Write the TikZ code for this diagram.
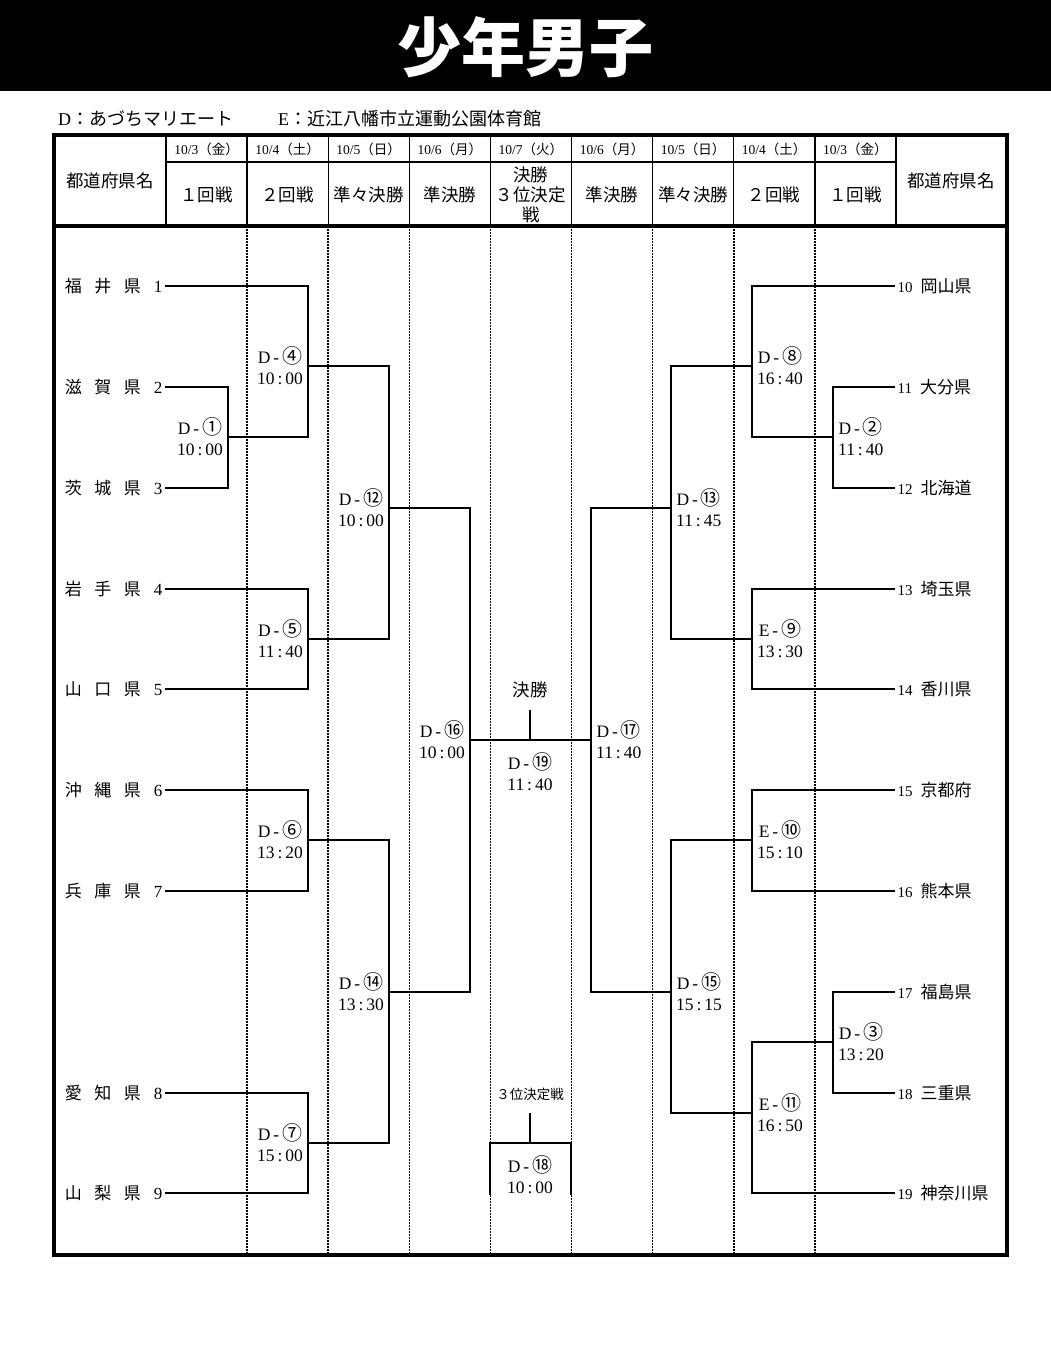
\documentclass[tikz,border=0pt]{standalone}
\usepackage{fontspec}
\setmainfont{Liberation Serif}
\newfontfamily\jp{Noto Sans CJK JP}
\usetikzlibrary{positioning}

% etiqueta de partido: cancha, numero, hora
\newcommand\matchlbl[4]{#1\,-\,{\jp\fontsize{20}{21}\selectfont #2}\\#3\,:\,#4}
\newcommand\gap{\hspace{12.5pt}}

\begin{document}
\begin{tikzpicture}[
    x=1pt, y=-1pt,
    % lineas del cuadro
    bracket/.style={draw, line width=1.8pt},
    grid/.style={draw, line width=1.4pt},
    frame/.style={draw, line width=3.5pt},
    dots/.style={draw, dash pattern=on 1.5pt off 1.5pt, line width=1.6pt},
    % textos
    teamL/.style={anchor=east, inner sep=2.5pt, font=\fontsize{17}{20}\selectfont},
    teamR/.style={anchor=west, inner sep=2.5pt, font=\fontsize{17}{20}\selectfont},
    match/.style={align=center, inner sep=0pt, font=\fontsize{17.5}{21}\selectfont},
    head/.style={align=center, inner sep=0pt, font=\jp\fontsize{17.5}{20}\selectfont},
    date/.style={inner sep=0pt, font=\fontsize{13.5}{15}\selectfont}
]
\useasboundingbox (0,0) rectangle (1051,1350);

% titulo
\fill (0,0) rectangle (1051,91);
\node [text=white, font=\jp\bfseries\fontsize{64}{64}\selectfont] (title) at (525,47) {少年男子};
\node [anchor=west, inner sep=0pt, font=\fontsize{18}{20}\selectfont] (legend) at (58,119)
    {D{\jp ：あづちマリエート}\hspace{45pt}E{\jp ：近江八幡市立運動公園体育館}};

% tabla
\draw [frame] (54,135) rectangle (1007,1255);
\draw [frame] (54,226) -- (1007,226);
\draw [grid] (166,162) -- (896,162);
\foreach \i in {0,...,9}
    \draw [grid] (166+81.1*\i,135) -- (166+81.1*\i,226);
\foreach \i in {1,...,8}
    \draw [dots] (166+81.1*\i,226) -- (166+81.1*\i,1255);

% encabezado
\node [head] (hl) at (110,181) {都道府県名};
\node [head] (hr) at (951,181) {都道府県名};
\foreach \m/\w [count=\i from 0] in {3/金,4/土,5/日,6/月,7/火,6/月,5/日,4/土,3/金}
    \node [date] (d\i) at (206.5+81.1*\i,149) {10/\m{\jp （\w）}};
\foreach \r [count=\i from 0] in {１回戦,２回戦,準々決勝,準決勝,{決勝\\３位決定\\戦},準決勝,準々決勝,２回戦,１回戦}
    \node [head] (r\i) at (206.5+81.1*\i,195) {\r};

% equipos
\foreach \a/\b/\c/\y [count=\i] in {福/井/県/286,滋/賀/県/387,茨/城/県/488,岩/手/県/589,山/口/県/689,
        沖/縄/県/790,兵/庫/県/891,愛/知/県/1093,山/梨/県/1193}
    \node [teamL] (t\i) at (165,\y) {{\jp \a\gap\b\gap\c}\hspace{13pt}\i};
\foreach \n/\y [count=\i from 10] in {岡山県/286,大分県/387,北海道/488,埼玉県/589,香川県/689,
        京都府/790,熊本県/891,福島県/992,三重県/1093,神奈川県/1193}
    \node [teamR] (t\i) at (895,\y) {{\fontsize{15}{18}\selectfont\i}\hspace{8pt}{\jp \n}};

% cruces
\coordinate (m1) at (228,437);
\coordinate (m4) at (308,366);
\coordinate (m5) at (308,639);
\coordinate (m6) at (308,840);
\coordinate (m7) at (308,1143);
\coordinate (m12) at (389,508);
\coordinate (m14) at (389,992);
\coordinate (m16) at (470,740);
\coordinate (m2) at (833,437);
\coordinate (m8) at (752,366);
\coordinate (m9) at (752,639);
\coordinate (m10) at (752,840);
\coordinate (m3) at (833,1042);
\coordinate (m11) at (752,1113);
\coordinate (m13) at (671,508);
\coordinate (m15) at (671,992);
\coordinate (m17) at (591,740);
\coordinate (m19) at (530,740);
\coordinate (final) at (530,710);
\coordinate (m18) at (530,1143);
\coordinate (third) at (530,1113);
\coordinate (thL) at (490,1195);
\coordinate (thR) at (571,1195);

% lado izquierdo
\draw [bracket] (t2.east) -| (m1);
\draw [bracket] (t3.east) -| (m1);
\draw [bracket] (t1.east) -| (m4);
\draw [bracket] (m1) -| (m4);
\draw [bracket] (t4.east) -| (m5);
\draw [bracket] (t5.east) -| (m5);
\draw [bracket] (t6.east) -| (m6);
\draw [bracket] (t7.east) -| (m6);
\draw [bracket] (t8.east) -| (m7);
\draw [bracket] (t9.east) -| (m7);
\draw [bracket] (m4) -| (m12);
\draw [bracket] (m5) -| (m12);
\draw [bracket] (m6) -| (m14);
\draw [bracket] (m7) -| (m14);
\draw [bracket] (m12) -| (m16);
\draw [bracket] (m14) -| (m16);

% lado derecho
\draw [bracket] (t11.west) -| (m2);
\draw [bracket] (t12.west) -| (m2);
\draw [bracket] (t10.west) -| (m8);
\draw [bracket] (m2) -| (m8);
\draw [bracket] (t13.west) -| (m9);
\draw [bracket] (t14.west) -| (m9);
\draw [bracket] (t15.west) -| (m10);
\draw [bracket] (t16.west) -| (m10);
\draw [bracket] (t17.west) -| (m3);
\draw [bracket] (t18.west) -| (m3);
\draw [bracket] (m3) -| (m11);
\draw [bracket] (t19.west) -| (m11);
\draw [bracket] (m8) -| (m13);
\draw [bracket] (m9) -| (m13);
\draw [bracket] (m10) -| (m15);
\draw [bracket] (m11) -| (m15);
\draw [bracket] (m13) -| (m17);
\draw [bracket] (m15) -| (m17);

% final y tercer puesto
\draw [bracket] (m16) -- (m17);
\draw [bracket] (final) -- (m19);
\draw [bracket] (third) -- (m18);
\draw [bracket] (thL) |- (m18) -| (thR);

% etiquetas de partidos
\node [match, left=5pt of m1] (l1) {\matchlbl{D}{①}{10}{00}};
\node [match, left=5pt of m4] (l4) {\matchlbl{D}{④}{10}{00}};
\node [match, left=5pt of m5] (l5) {\matchlbl{D}{⑤}{11}{40}};
\node [match, left=5pt of m6] (l6) {\matchlbl{D}{⑥}{13}{20}};
\node [match, left=5pt of m7] (l7) {\matchlbl{D}{⑦}{15}{00}};
\node [match, left=5pt of m12] (l12) {\matchlbl{D}{⑫}{10}{00}};
\node [match, left=5pt of m14] (l14) {\matchlbl{D}{⑭}{13}{30}};
\node [match, left=5pt of m16] (l16) {\matchlbl{D}{⑯}{10}{00}};
\node [match, right=5pt of m2] (l2) {\matchlbl{D}{②}{11}{40}};
\node [match, right=5pt of m8] (l8) {\matchlbl{D}{⑧}{16}{40}};
\node [match, right=5pt of m9] (l9) {\matchlbl{E}{⑨}{13}{30}};
\node [match, right=5pt of m10] (l10) {\matchlbl{E}{⑩}{15}{10}};
\node [match, right=5pt of m3] (l3) {\matchlbl{D}{③}{13}{20}};
\node [match, right=5pt of m11] (l11) {\matchlbl{E}{⑪}{16}{50}};
\node [match, right=5pt of m13] (l13) {\matchlbl{D}{⑬}{11}{45}};
\node [match, right=5pt of m15] (l15) {\matchlbl{D}{⑮}{15}{15}};
\node [match, right=5pt of m17] (l17) {\matchlbl{D}{⑰}{11}{40}};
\node [match, below=12pt of m19] (l19) {\matchlbl{D}{⑲}{11}{40}};
\node [match, below=12pt of m18] (l18) {\matchlbl{D}{⑱}{10}{00}};
\node [head, above=12pt of final] (fl) {決勝};
\node [head, above=12pt of third, font=\jp\fontsize{13.5}{16}\selectfont] (tl) {３位決定戦};
\end{tikzpicture}
\end{document}
